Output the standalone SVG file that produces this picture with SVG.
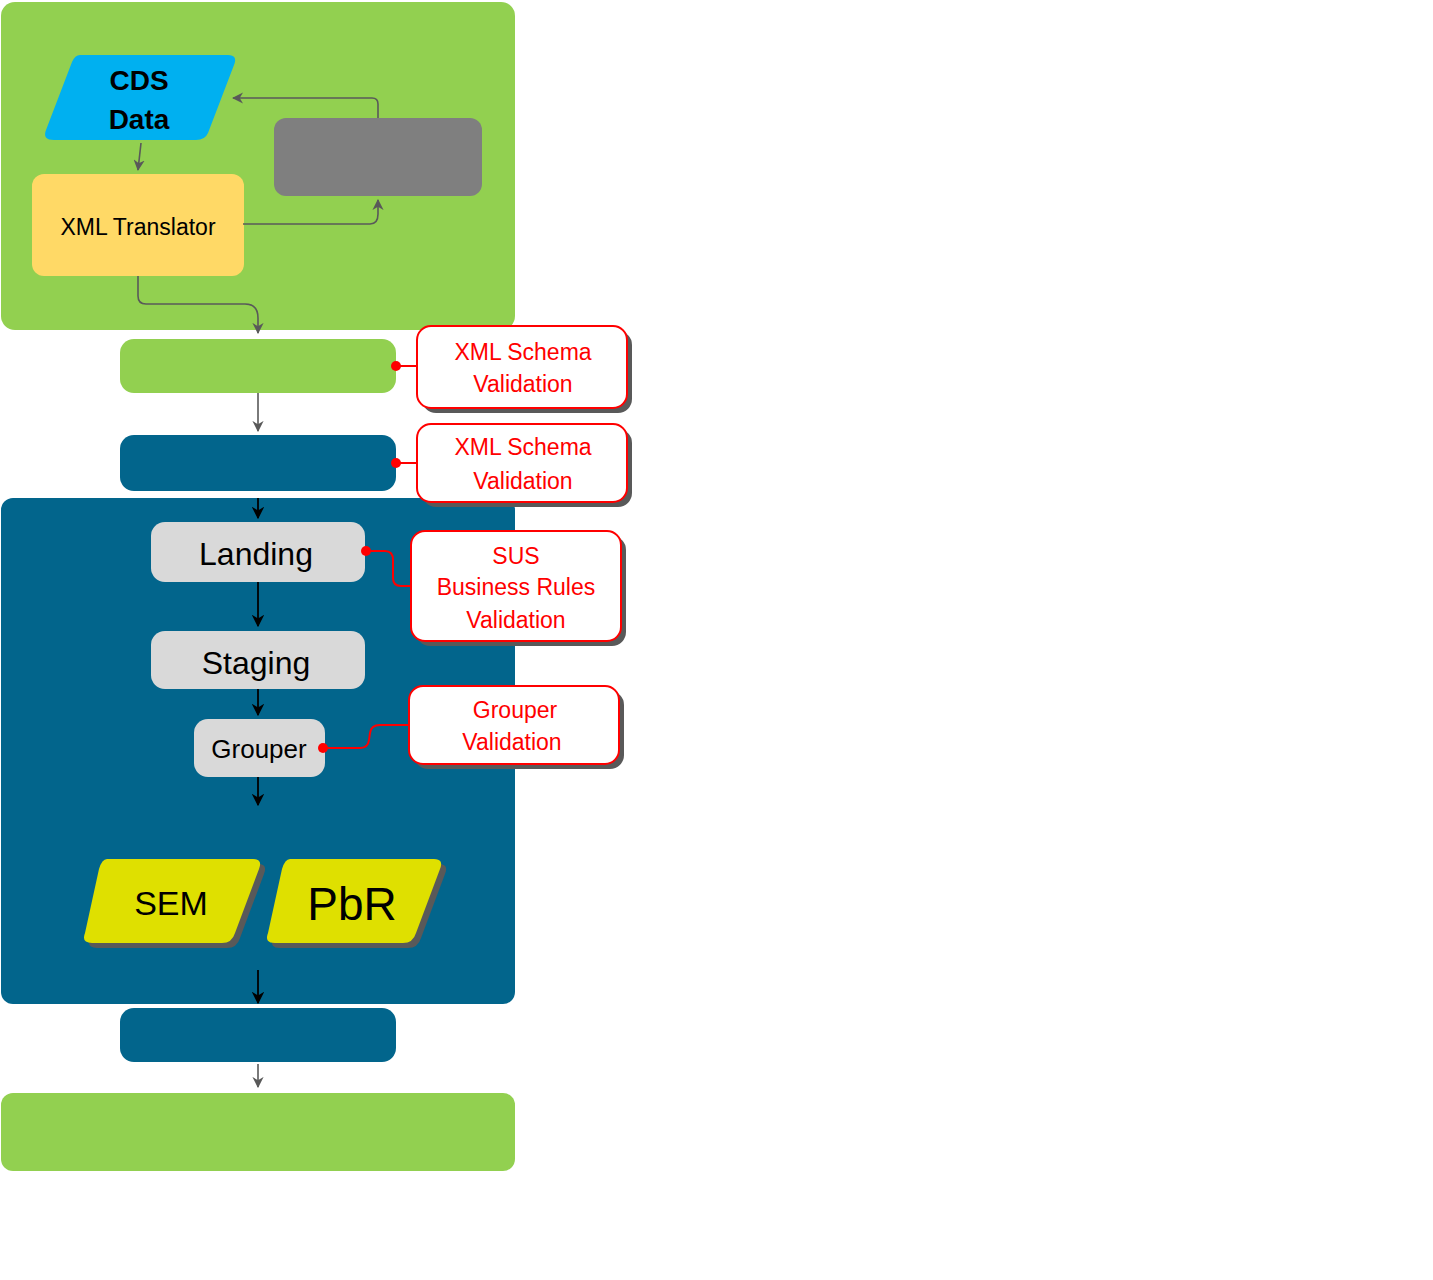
<svg xmlns="http://www.w3.org/2000/svg" width="1433" height="1280" viewBox="0 0 1433 1280">
<defs>
<style>
text{font-family:"Liberation Sans","Noto Sans",sans-serif;text-anchor:middle}
.g{fill:#92D050}.b{fill:#02658C}.l{fill:#D9D9D9}
.call{fill:#fff;stroke:#FF0000;stroke-width:2}
.sh{fill:#595959}
.rt{fill:#FF0000;font-size:23px}
.cg{fill:none;stroke:#595959;stroke-width:1.6}
.ck{fill:none;stroke:#000;stroke-width:1.8}
.cr{fill:none;stroke:#FF0000;stroke-width:2}
</style>
<marker id="ag" viewBox="0 0 10 10" refX="9" refY="5" markerWidth="7" markerHeight="7" orient="auto"><path d="M0,0L10,5L0,10L3,5z" fill="#595959"/></marker>
<marker id="ak" viewBox="0 0 10 10" refX="9" refY="5" markerWidth="7" markerHeight="7" orient="auto"><path d="M0,0L10,5L0,10L3,5z" fill="#000"/></marker>
</defs>
<g id="top-container"><rect class="g" x="1" y="2" width="514" height="328" rx="14"/></g>
<g id="cds"><path d="M80,55H228Q238,55 234,65L208,133Q205,140 196,140H54Q42,140 46,130L72,62Q75,55 80,55Z" fill="#00B0F0"/>
<text x="139" y="90" font-size="28" font-weight="bold">CDS</text><text x="139" y="129" font-size="28" font-weight="bold">Data</text></g>
<g id="translator"><rect x="32" y="174" width="212" height="102" rx="12" fill="#FFD966"/><text x="138" y="235" font-size="23">XML Translator</text></g>
<g id="gray"><rect x="274" y="118" width="208" height="78" rx="12" fill="#7F7F7F"/></g>
<g id="xsd1"><rect class="g" x="120" y="339" width="276" height="54" rx="14"/></g>
<g id="xsd2"><rect class="b" x="120" y="435" width="276" height="56" rx="14"/></g>
<g id="db-container"><rect class="b" x="1" y="498" width="514" height="506" rx="12"/></g>
<g id="landing"><rect class="l" x="151" y="522" width="214" height="60" rx="14"/><text x="256" y="565" font-size="32">Landing</text></g>
<g id="staging"><rect class="l" x="151" y="631" width="214" height="58" rx="14"/><text x="256" y="674" font-size="32">Staging</text></g>
<g id="grouper"><rect class="l" x="194" y="719" width="131" height="58" rx="14"/><text x="259" y="758" font-size="26">Grouper</text></g>
<g id="sem"><path d="M112,864H258Q268,864 264,874L240,938Q237,948 227,948H97Q86,948 90,938L104,874Q107,864 112,864Z" class="sh"/>
<path d="M107,859H253Q263,859 259,869L235,933Q232,943 222,943H92Q81,943 85,933L99,869Q102,859 107,859Z" fill="#DFE000"/>
<text x="171" y="915" font-size="34">SEM</text></g>
<g id="pbr"><path d="M295,864H439Q449,864 445,874L421,938Q418,948 408,948H280Q269,948 273,938L287,874Q290,864 295,864Z" class="sh"/>
<path d="M290,859H434Q444,859 440,869L416,933Q413,943 403,943H275Q264,943 268,933L282,869Q285,859 290,859Z" fill="#DFE000"/>
<text x="352" y="920" font-size="46">PbR</text></g>
<g id="xsd3"><rect class="b" x="120" y="1008" width="276" height="54" rx="14"/></g>
<g id="bottom"><rect class="g" x="1" y="1093" width="514" height="78" rx="12"/></g>
<g id="callout1"><rect class="sh" x="422" y="331" width="210" height="82" rx="14"/><rect class="call" x="417" y="326" width="210" height="82" rx="14"/><text class="rt" x="523" y="360">XML Schema</text><text class="rt" x="523" y="392">Validation</text></g>
<g id="callout2"><rect class="sh" x="422" y="429" width="210" height="78" rx="14"/><rect class="call" x="417" y="424" width="210" height="78" rx="14"/><text class="rt" x="523" y="455">XML Schema</text><text class="rt" x="523" y="489">Validation</text></g>
<g id="callout3"><rect class="sh" x="416" y="536" width="210" height="110" rx="14"/><rect class="call" x="411" y="531" width="210" height="110" rx="14"/><text class="rt" x="516" y="564">SUS</text><text class="rt" x="516" y="595">Business Rules</text><text class="rt" x="516" y="628">Validation</text></g>
<g id="callout4"><rect class="sh" x="414" y="691" width="210" height="78" rx="14"/><rect class="call" x="409" y="686" width="210" height="78" rx="14"/><text class="rt" x="515" y="718">Grouper</text><text class="rt" x="512" y="750">Validation</text></g>
<g id="connectors">
<path class="cg" d="M141,143L138,170" marker-end="url(#ag)"/>
<path class="cg" d="M378,118V104Q378,98 372,98H233" marker-end="url(#ag)"/>
<path class="cg" d="M243,224H370Q378,224 378,214V200" marker-end="url(#ag)"/>
<path class="cg" d="M138,276V296Q138,304 146,304H245Q258,304 258,318V333" marker-end="url(#ag)"/>
<path class="cg" d="M258,393V431" marker-end="url(#ag)"/>
<path class="ck" d="M258,498V518" marker-end="url(#ak)"/>
<path class="ck" d="M258,582V626" marker-end="url(#ak)"/>
<path class="ck" d="M258,689V715" marker-end="url(#ak)"/>
<path class="ck" d="M258,777V805" marker-end="url(#ak)"/>
<path class="ck" d="M258,970V1003" marker-end="url(#ak)"/>
<path class="cg" d="M258,1064V1087" marker-end="url(#ag)"/>
<path class="cr" d="M396,366H417"/><circle cx="396" cy="366" r="5" fill="#FF0000"/>
<path class="cr" d="M396,463H417"/><circle cx="396" cy="463" r="5" fill="#FF0000"/>
<path class="cr" d="M366,551H385Q393,551 393,560V578Q393,586 401,586H411"/><circle cx="366" cy="551" r="5" fill="#FF0000"/>
<path class="cr" d="M323,748H360Q368,748 369,740L370,733Q371,725 380,725H409"/><circle cx="323" cy="748" r="5" fill="#FF0000"/>
</g>
</svg>
